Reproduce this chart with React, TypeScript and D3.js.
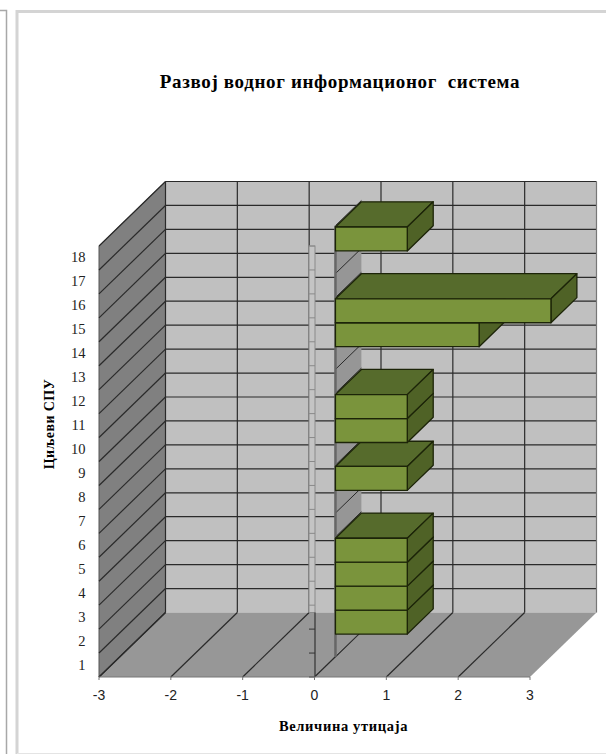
import React from "react";
import * as d3 from "d3";

// Impact per SPA objective; objectives without an entry sit at zero.
const categories = d3.range(1, 19);
const values = [0, 1, 1, 1, 1, 0, 0, 1, 0, 1, 1, 0, 0, 2, 3, 0, 0, 1];
const xTicks = [-3, -2, -1, 0, 1, 2, 3];

const chartTitle = "Развој водног информационог  система";
const xTitle = "Величина утицаја";
const yTitle = "Циљеви СПУ";

const W = 606;
const H = 754;

// Front plane of the 3D box; the depth offset carries points back to the rear wall.
const x = d3.scaleLinear().domain([-3, 3]).range([99, 530]);
const y = d3.scaleLinear().domain([0, 18]).range([677, 246]);
const DEPTH_X = 66.5;
const DEPTH_Y = -64.5;
const BAR_NEAR = 0.315;
const BAR_FAR = 0.705;
const BAR_DROP = 1.3;

const project = (v: number, c: number, d: number): [number, number] => [
  x(v) + DEPTH_X * d,
  y(c) + DEPTH_Y * d,
];

const barPoint = (v: number, c: number, d: number): [number, number] => {
  const [px, py] = project(v, c, d);
  return [px, py + BAR_DROP];
};

const poly = (pts: [number, number][]) => pts.map((p) => p.join(",")).join(" ");

const C = {
  wall: "#c0c0c0",
  side: "#808080",
  floor: "#979797",
  zeroPanel: "#969696",
  grid: "#2a2a2a",
  front: "#7a943c",
  top: "#566b2c",
  end: "#4f6226",
  edge: "#1c2408",
};

function Bar({ cat, value }: { cat: number; value: number }) {
  const c0 = cat - 1;
  const a = barPoint(0, c0, BAR_NEAR);
  const b = barPoint(value, c0, BAR_NEAR);
  const c = barPoint(value, cat, BAR_NEAR);
  const e = barPoint(0, cat, BAR_NEAR);
  const fb = barPoint(value, c0, BAR_FAR);
  const fc = barPoint(value, cat, BAR_FAR);
  const fe = barPoint(0, cat, BAR_FAR);
  const common = { stroke: C.edge, strokeWidth: 1.3, strokeLinejoin: "round" as const };
  return (
    <g>
      <polygon points={poly([e, c, fc, fe])} fill={C.top} {...common} />
      <polygon points={poly([b, c, fc, fb])} fill={C.end} {...common} />
      <polygon points={poly([a, b, c, e])} fill={C.front} {...common} />
    </g>
  );
}

export default function App() {
  const bounds = d3.range(0, 19);
  const bx0 = project(0, 0, BAR_NEAR);
  const tx = project(0, 18, BAR_NEAR);
  const fx0 = project(0, 0, BAR_FAR);
  const ftx = project(0, 18, BAR_FAR);
  const stripBottom = project(0, 0, 1)[1];

  return (
    <svg
      width={W}
      height={H}
      viewBox={`0 0 ${W} ${H}`}
      style={{ position: "absolute", left: 0, top: 0, background: "#fff" }}
    >
      {/* page frame around the chart */}
      <path d="M0 10.5H6.5V754" fill="none" stroke="#a8a8a8" strokeWidth={1.5} />
      <path d="M17 754V11.5H606" fill="none" stroke="#d4d4d4" strokeWidth={3} />
      <line x1={17} x2={606} y1={753.5} y2={753.5} stroke="#e4e4e4" />

      <text
        x={340}
        y={88}
        textAnchor="middle"
        fontFamily="Liberation Serif"
        fontWeight="bold"
        fontSize={19}
        letterSpacing={0.65}
        style={{ whiteSpace: "pre" }}
      >
        {chartTitle}
      </text>

      {/* box walls */}
      <polygon
        points={poly([project(-3, 0, 1), project(3, 0, 1), project(3, 18, 1), project(-3, 18, 1)])}
        fill={C.wall}
      />
      <polygon
        points={poly([project(-3, 0, 0), project(-3, 0, 1), project(-3, 18, 1), project(-3, 18, 0)])}
        fill={C.side}
        stroke="#555"
      />
      <polygon
        points={poly([project(-3, 0, 0), project(3, 0, 0), project(3, 0, 1), project(-3, 0, 1)])}
        fill={C.floor}
      />

      {/* gridlines on rear wall and left wall */}
      {bounds.map((c) => (
        <g key={c} stroke={C.grid} strokeWidth={1.2}>
          {c > 0 && (
            <line
              x1={project(-3, c, 1)[0]}
              y1={project(-3, c, 1)[1]}
              x2={project(3, c, 1)[0]}
              y2={project(3, c, 1)[1]}
            />
          )}
          <line
            x1={project(-3, c, 0)[0]}
            y1={project(-3, c, 0)[1]}
            x2={project(-3, c, 1)[0]}
            y2={project(-3, c, 1)[1]}
          />
        </g>
      ))}
      {xTicks.map((t) => (
        <g key={t} stroke={t === 3 ? "#777" : C.grid} strokeWidth={1.2}>
          <line
            x1={project(t, 0, 1)[0]}
            y1={project(t, 0, 1)[1]}
            x2={project(t, 18, 1)[0]}
            y2={project(t, 18, 1)[1]}
          />
          {t < 3 && (
            <line
              x1={project(t, 0, 0)[0]}
              y1={project(t, 0, 0)[1]}
              x2={project(t, 0, 1)[0]}
              y2={project(t, 0, 1)[1]}
            />
          )}
        </g>
      ))}

      {/* plane the bars grow from */}
      <polygon points={poly([bx0, fx0, ftx, tx])} fill={C.zeroPanel} />
      {bounds.map((c) => (
        <line
          key={c}
          x1={project(0, c, BAR_NEAR)[0]}
          y1={project(0, c, BAR_NEAR)[1]}
          x2={project(0, c, BAR_FAR)[0]}
          y2={project(0, c, BAR_FAR)[1]}
          stroke={C.grid}
        />
      ))}
      <line x1={bx0[0]} x2={tx[0]} y1={bx0[1]} y2={tx[1]} stroke="#666" strokeWidth={2.5} />

      {/* category axis at zero: a narrow strip with a tick at each boundary */}
      <rect
        x={x(0) - 5.5}
        y={y(18)}
        width={6}
        height={stripBottom - y(18)}
        fill="#c4c4c4"
        stroke="#8a8a8a"
      />
      <line x1={x(0) + 0.5} x2={x(0) + 0.5} y1={stripBottom} y2={y(0)} stroke="#333" strokeWidth={1.2} />
      {bounds.map((c) => (
        <line
          key={c}
          x1={x(0) - 5.5}
          x2={x(0) + 0.5}
          y1={y(c)}
          y2={y(c)}
          stroke={c < 3 ? "#333" : "#8a8a8a"}
        />
      ))}

      {/* bars, lowest category first so higher ones overlap their neighbours */}
      {categories.map((c, i) =>
        values[i] > 0 ? <Bar key={c} cat={c} value={values[i]} /> : null,
      )}

      {/* value axis */}
      <line x1={x(-3)} x2={x(3)} y1={y(0)} y2={y(0)} stroke="#777" />
      {xTicks.map((t) => (
        <g key={t}>
          <line x1={x(t)} x2={x(t)} y1={y(0)} y2={y(0) + 3} stroke="#777" />
          <text
            x={x(t)}
            y={700}
            textAnchor="middle"
            fontFamily="Liberation Sans"
            fontSize={14}
            fill="#222"
          >
            {t}
          </text>
        </g>
      ))}

      {/* category labels */}
      {categories.map((c) => (
        <text
          key={c}
          x={85.5}
          y={y(c - 0.5) + 4.5}
          textAnchor="end"
          fontFamily="Liberation Serif"
          fontSize={14.5}
          fill="#222"
        >
          {c}
        </text>
      ))}

      <text
        x={343.5}
        y={731}
        textAnchor="middle"
        fontFamily="Liberation Serif"
        fontWeight="bold"
        fontSize={14.5}
        letterSpacing={0.65}
      >
        {xTitle}
      </text>
      <text
        transform="translate(54,424) rotate(-90)"
        textAnchor="middle"
        fontFamily="Liberation Serif"
        fontWeight="bold"
        fontSize={14}
        letterSpacing={0.4}
      >
        {yTitle}
      </text>
    </svg>
  );
}
